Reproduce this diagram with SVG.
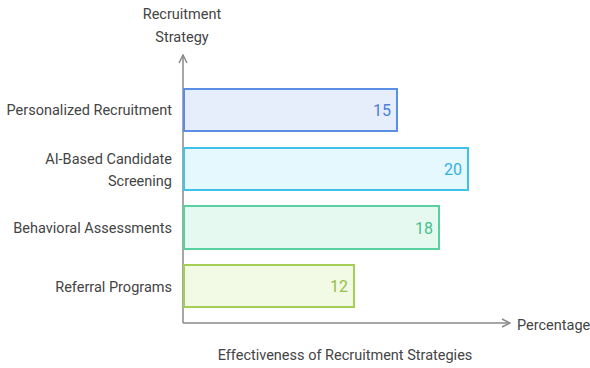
<svg xmlns="http://www.w3.org/2000/svg" width="590" height="368" viewBox="0 0 590 368">
<style>
text{font-family:Roboto,"Liberation Sans",sans-serif;font-size:14.5px;fill:#444}
.lbl{text-anchor:end}
.val{text-anchor:end;font-size:16px}
.axis{stroke:#8a8a8a;stroke-width:1.5;fill:none}
.bar{stroke-width:2}
</style>
<defs>
<marker id="arr" viewBox="0 0 10 10" refX="9" refY="5" markerWidth="10" markerHeight="10" markerUnits="userSpaceOnUse" orient="auto">
<path d="M1,1 L9,5 L1,9" fill="none" stroke="#8a8a8a" stroke-width="1.5"/>
</marker>
</defs>
<g id="connectors">
<line class="axis" x1="183" y1="323" x2="183" y2="55" marker-end="url(#arr)"/>
<line class="axis" x1="183" y1="323" x2="510" y2="323" marker-end="url(#arr)"/>
</g>
<g id="axis-titles">
<text x="182" y="19" text-anchor="middle">Recruitment</text>
<text x="182" y="42" text-anchor="middle">Strategy</text>
<text x="517" y="330">Percentage</text>
<text x="345" y="360" text-anchor="middle">Effectiveness of Recruitment Strategies</text>
</g>
<g id="bar-personalized">
<rect class="bar" x="184" y="89" width="213" height="42" fill="#e6edfb" stroke="#5b8ee6"/>
<text class="val" x="391" y="116" style="fill:#4a7fdc">15</text>
<text class="lbl" x="172" y="115">Personalized Recruitment</text>
</g>
<g id="bar-ai">
<rect class="bar" x="184" y="148" width="284" height="42" fill="#e5f8fd" stroke="#3fc1e8"/>
<text class="val" x="462" y="175" style="fill:#2fb3dd">20</text>
<text class="lbl" x="172" y="164">AI-Based Candidate</text>
<text class="lbl" x="172" y="186">Screening</text>
</g>
<g id="bar-behavioral">
<rect class="bar" x="184" y="206" width="255" height="43" fill="#e6f9f0" stroke="#58d0a0"/>
<text class="val" x="433" y="233.5" style="fill:#45c08e">18</text>
<text class="lbl" x="172" y="233">Behavioral Assessments</text>
</g>
<g id="bar-referral">
<rect class="bar" x="184" y="265" width="170" height="42" fill="#f2f9e5" stroke="#a4cf55"/>
<text class="val" x="348" y="292" style="fill:#93c142">12</text>
<text class="lbl" x="172" y="292">Referral Programs</text>
</g>
</svg>
